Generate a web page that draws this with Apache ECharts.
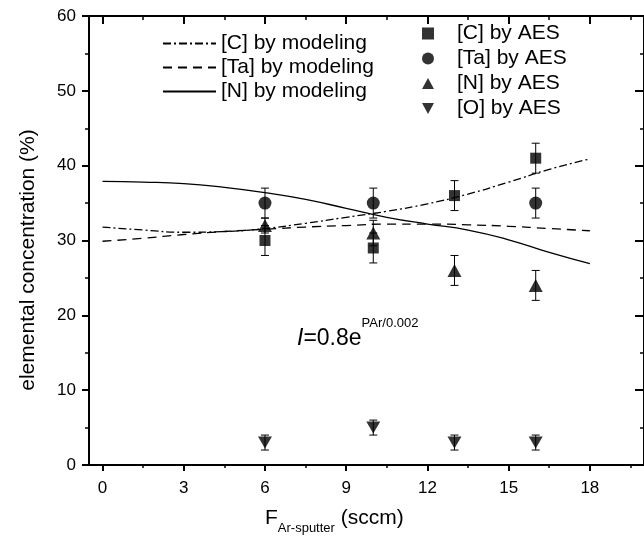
<!DOCTYPE html>
<html><head><meta charset="utf-8">
<script src="https://cdn.jsdelivr.net/npm/echarts@6/dist/echarts.min.js"></script>
<style>html,body{margin:0;padding:0;background:#fff}#c{width:644px;height:536px}</style>
</head><body><div id="c"></div>
<script>
// ---- data ----
const xTickValues = [0, 3, 6, 9, 12, 15, 18];
const xMinorTickValues = [1.5, 4.5, 7.5, 10.5, 13.5, 16.5, 19.5];

const xModel = [0, 1.5, 3, 4.5, 6, 7.5, 9, 10.5, 12, 13.5, 15, 16.5, 18];
const cModel = [31.8, 31.4, 31.1, 31.2, 31.6, 32.3, 33.1, 33.9, 34.9, 36.2, 37.8, 39.5, 40.9];
const taModel = [29.9, 30.3, 30.8, 31.2, 31.5, 31.8, 32.0, 32.2, 32.2, 32.1, 31.9, 31.6, 31.3];
const nModel = [37.9, 37.8, 37.6, 37.1, 36.4, 35.5, 34.3, 33.1, 32.2, 31.4, 30.1, 28.4, 26.9];

const xC = [6, 10, 13, 16];
const cAES = [30, 29, 36, 41];
const cErr = [2, 2, 2, 2];
const xTa = [6, 10, 16];
const taAES = [35, 35, 35];
const taErr = [2, 2, 2];
const xN = [6, 10, 13, 16];
const nAES = [32, 31, 26, 24];
const nErr = [1, 1.7, 2, 2];
const xO = [6, 10, 13, 16];
const oAES = [3, 5, 3, 3];
const oErr = [1, 1, 1, 1];

const namesModel = ['[C] by modeling', '[Ta] by modeling', '[N] by modeling'];
const namesAES = ['[C] by AES', '[Ta] by AES', '[N] by AES', '[O] by AES'];

// ---- chart ----
const FONT = '"Liberation Sans", Arial, sans-serif';
const zip = (a, b) => a.map((v, i) => [v, b[i]]);
const sqPath = 'path://M0,0L10,0L10,10L0,10Z';
const triPath = 'path://M5,0L10,9L0,9Z';
const invTriPath = 'path://M0,0L10,0L5,9Z';

function errSeries(xs, ys, errs) {
  return {
    type: 'custom', xAxisIndex: 0, yAxisIndex: 0, silent: true, z: 1,
    data: xs.map((x, i) => [x, ys[i], errs[i]]),
    encode: { x: 0, y: 1 },
    renderItem: function (params, api) {
      const x = api.value(0), y = api.value(1), e = api.value(2);
      const t = api.coord([x, y + e]), b = api.coord([x, y - e]);
      const w = 4;
      const st = { stroke: '#000', lineWidth: 1 };
      return { type: 'group', children: [
        { type: 'line', shape: { x1: t[0], y1: t[1], x2: b[0], y2: b[1] }, style: st },
        { type: 'line', shape: { x1: t[0] - w, y1: t[1], x2: t[0] + w, y2: t[1] }, style: st },
        { type: 'line', shape: { x1: b[0] - w, y1: b[1], x2: b[0] + w, y2: b[1] }, style: st }
      ]};
    }
  };
}

const axisBase = { type: 'value', min: -0.5, max: 20, splitLine: { show: false } };
const yBase = { type: 'value', min: 0, max: 60, interval: 10, splitLine: { show: false } };

const option = {
  animation: false,
  backgroundColor: '#fff',
  grid: { left: 89, top: 16, width: 558, height: 449 },
  xAxis: [
    Object.assign({}, axisBase, { position: 'bottom',
      axisLine: { onZero: false, lineStyle: { color: '#000', width: 2 } },
      axisTick: { customValues: xTickValues, length: 6, lineStyle: { color: '#000', width: 2 } },
      axisLabel: { customValues: xTickValues, fontSize: 17, color: '#000', fontFamily: FONT, margin: 15 } }),
    Object.assign({}, axisBase, { position: 'bottom',
      axisLine: { show: false, onZero: false },
      axisTick: { customValues: xMinorTickValues, length: 3, lineStyle: { color: '#000', width: 1.5 } },
      axisLabel: { show: false } }),
    Object.assign({}, axisBase, { position: 'top',
      axisLine: { onZero: false, lineStyle: { color: '#000', width: 2 } },
      axisTick: { customValues: xTickValues, inside: true, length: 8, lineStyle: { color: '#000', width: 2 } },
      axisLabel: { show: false } }),
    Object.assign({}, axisBase, { position: 'top',
      axisLine: { show: false, onZero: false },
      axisTick: { customValues: xMinorTickValues, inside: true, length: 4, lineStyle: { color: '#000', width: 1.5 } },
      axisLabel: { show: false } })
  ],
  yAxis: [
    Object.assign({}, yBase, { position: 'left',
      axisLine: { onZero: false, lineStyle: { color: '#000', width: 2 } },
      axisTick: { length: 7, lineStyle: { color: '#000', width: 2 } },
      minorTick: { show: true, splitNumber: 2, length: 4, lineStyle: { color: '#000', width: 1.5 } },
      axisLabel: { fontSize: 17, color: '#000', fontFamily: FONT, margin: 13 } }),
    Object.assign({}, yBase, { position: 'right',
      axisLine: { onZero: false, lineStyle: { color: '#000', width: 2 } },
      axisTick: { inside: true, length: 9, lineStyle: { color: '#000', width: 2 } },
      minorTick: { show: true, splitNumber: 2, length: 4, lineStyle: { color: '#000', width: 1.5 } },
      axisLabel: { show: false } })
  ],
  legend: [
    { data: namesModel, orient: 'vertical', left: 162, top: 33, padding: 0,
      itemWidth: 53, itemHeight: 12, itemGap: 3, selectedMode: false,
      itemStyle: { opacity: 0 },
      textStyle: { fontSize: 21, color: '#000', fontFamily: FONT } },
    { data: namesAES, orient: 'vertical', left: 422, top: 23, padding: 0,
      itemWidth: 12, itemHeight: 12, itemGap: 4, selectedMode: false,
      textStyle: { fontSize: 21, color: '#000', fontFamily: FONT, padding: [0, 0, 0, 18] } }
  ],
  graphic: [
    { type: 'text', left: 297, top: 317, z: 10,
      style: { text: '{i|I}{n|=0.8e}{s|PAr/0.002}', fill: '#000',
        rich: {
          i: { fontSize: 23, fontStyle: 'italic', fontFamily: FONT, verticalAlign: 'bottom' },
          n: { fontSize: 23, fontFamily: FONT, verticalAlign: 'bottom' },
          s: { fontSize: 13, fontFamily: FONT, verticalAlign: 'bottom', padding: [0, 0, 20, 0] }
        } } },
    { type: 'text', left: 265, top: 508, z: 10,
      style: { text: '{a|F}{b|Ar-sputter}{c| (sccm)}', fill: '#000',
        rich: {
          a: { fontSize: 21, fontFamily: FONT, verticalAlign: 'top' },
          b: { fontSize: 13, fontFamily: FONT, verticalAlign: 'top', padding: [14, 0, 0, 0] },
          c: { fontSize: 21, fontFamily: FONT, verticalAlign: 'top' }
        } } },
    { type: 'text', x: 28, y: 260, rotation: Math.PI / 2, z: 10,
      style: { text: 'elemental concentration (%)', fill: '#000', font: '21px ' + FONT,
        align: 'center', verticalAlign: 'middle' } }
  ],
  series: [
    { name: namesModel[0], type: 'line', smooth: true, symbol: 'none', data: zip(xModel, cModel),
      lineStyle: { color: '#000', width: 1.3, type: [8, 3, 2, 3] }, itemStyle: { color: '#000' }, z: 2 },
    { name: namesModel[1], type: 'line', smooth: true, symbol: 'none', data: zip(xModel, taModel),
      lineStyle: { color: '#000', width: 1.3, type: [9, 6] }, itemStyle: { color: '#000' }, z: 2 },
    { name: namesModel[2], type: 'line', smooth: true, symbol: 'none', data: zip(xModel, nModel),
      lineStyle: { color: '#000', width: 1.3, type: 'solid' }, itemStyle: { color: '#000' }, z: 2 },
    errSeries(xC, cAES, cErr),
    errSeries(xTa, taAES, taErr),
    errSeries(xN, nAES, nErr),
    errSeries(xO, oAES, oErr),
    { name: namesAES[0], type: 'scatter', symbol: sqPath, symbolSize: 11, data: zip(xC, cAES), itemStyle: { color: '#000' }, z: 3 },
    { name: namesAES[1], type: 'scatter', symbol: 'circle', symbolSize: 13, data: zip(xTa, taAES), itemStyle: { color: '#000' }, z: 3 },
    { name: namesAES[2], type: 'scatter', symbol: triPath, symbolSize: [14, 13], data: zip(xN, nAES), itemStyle: { color: '#000' }, z: 3 },
    { name: namesAES[3], type: 'scatter', symbol: invTriPath, symbolSize: [14, 12], data: zip(xO, oAES), itemStyle: { color: '#000' }, z: 3 }
  ]
};
const chart = echarts.init(document.getElementById('c'), null, { renderer: 'canvas' });
chart.setOption(option);
</script>
</body></html>
